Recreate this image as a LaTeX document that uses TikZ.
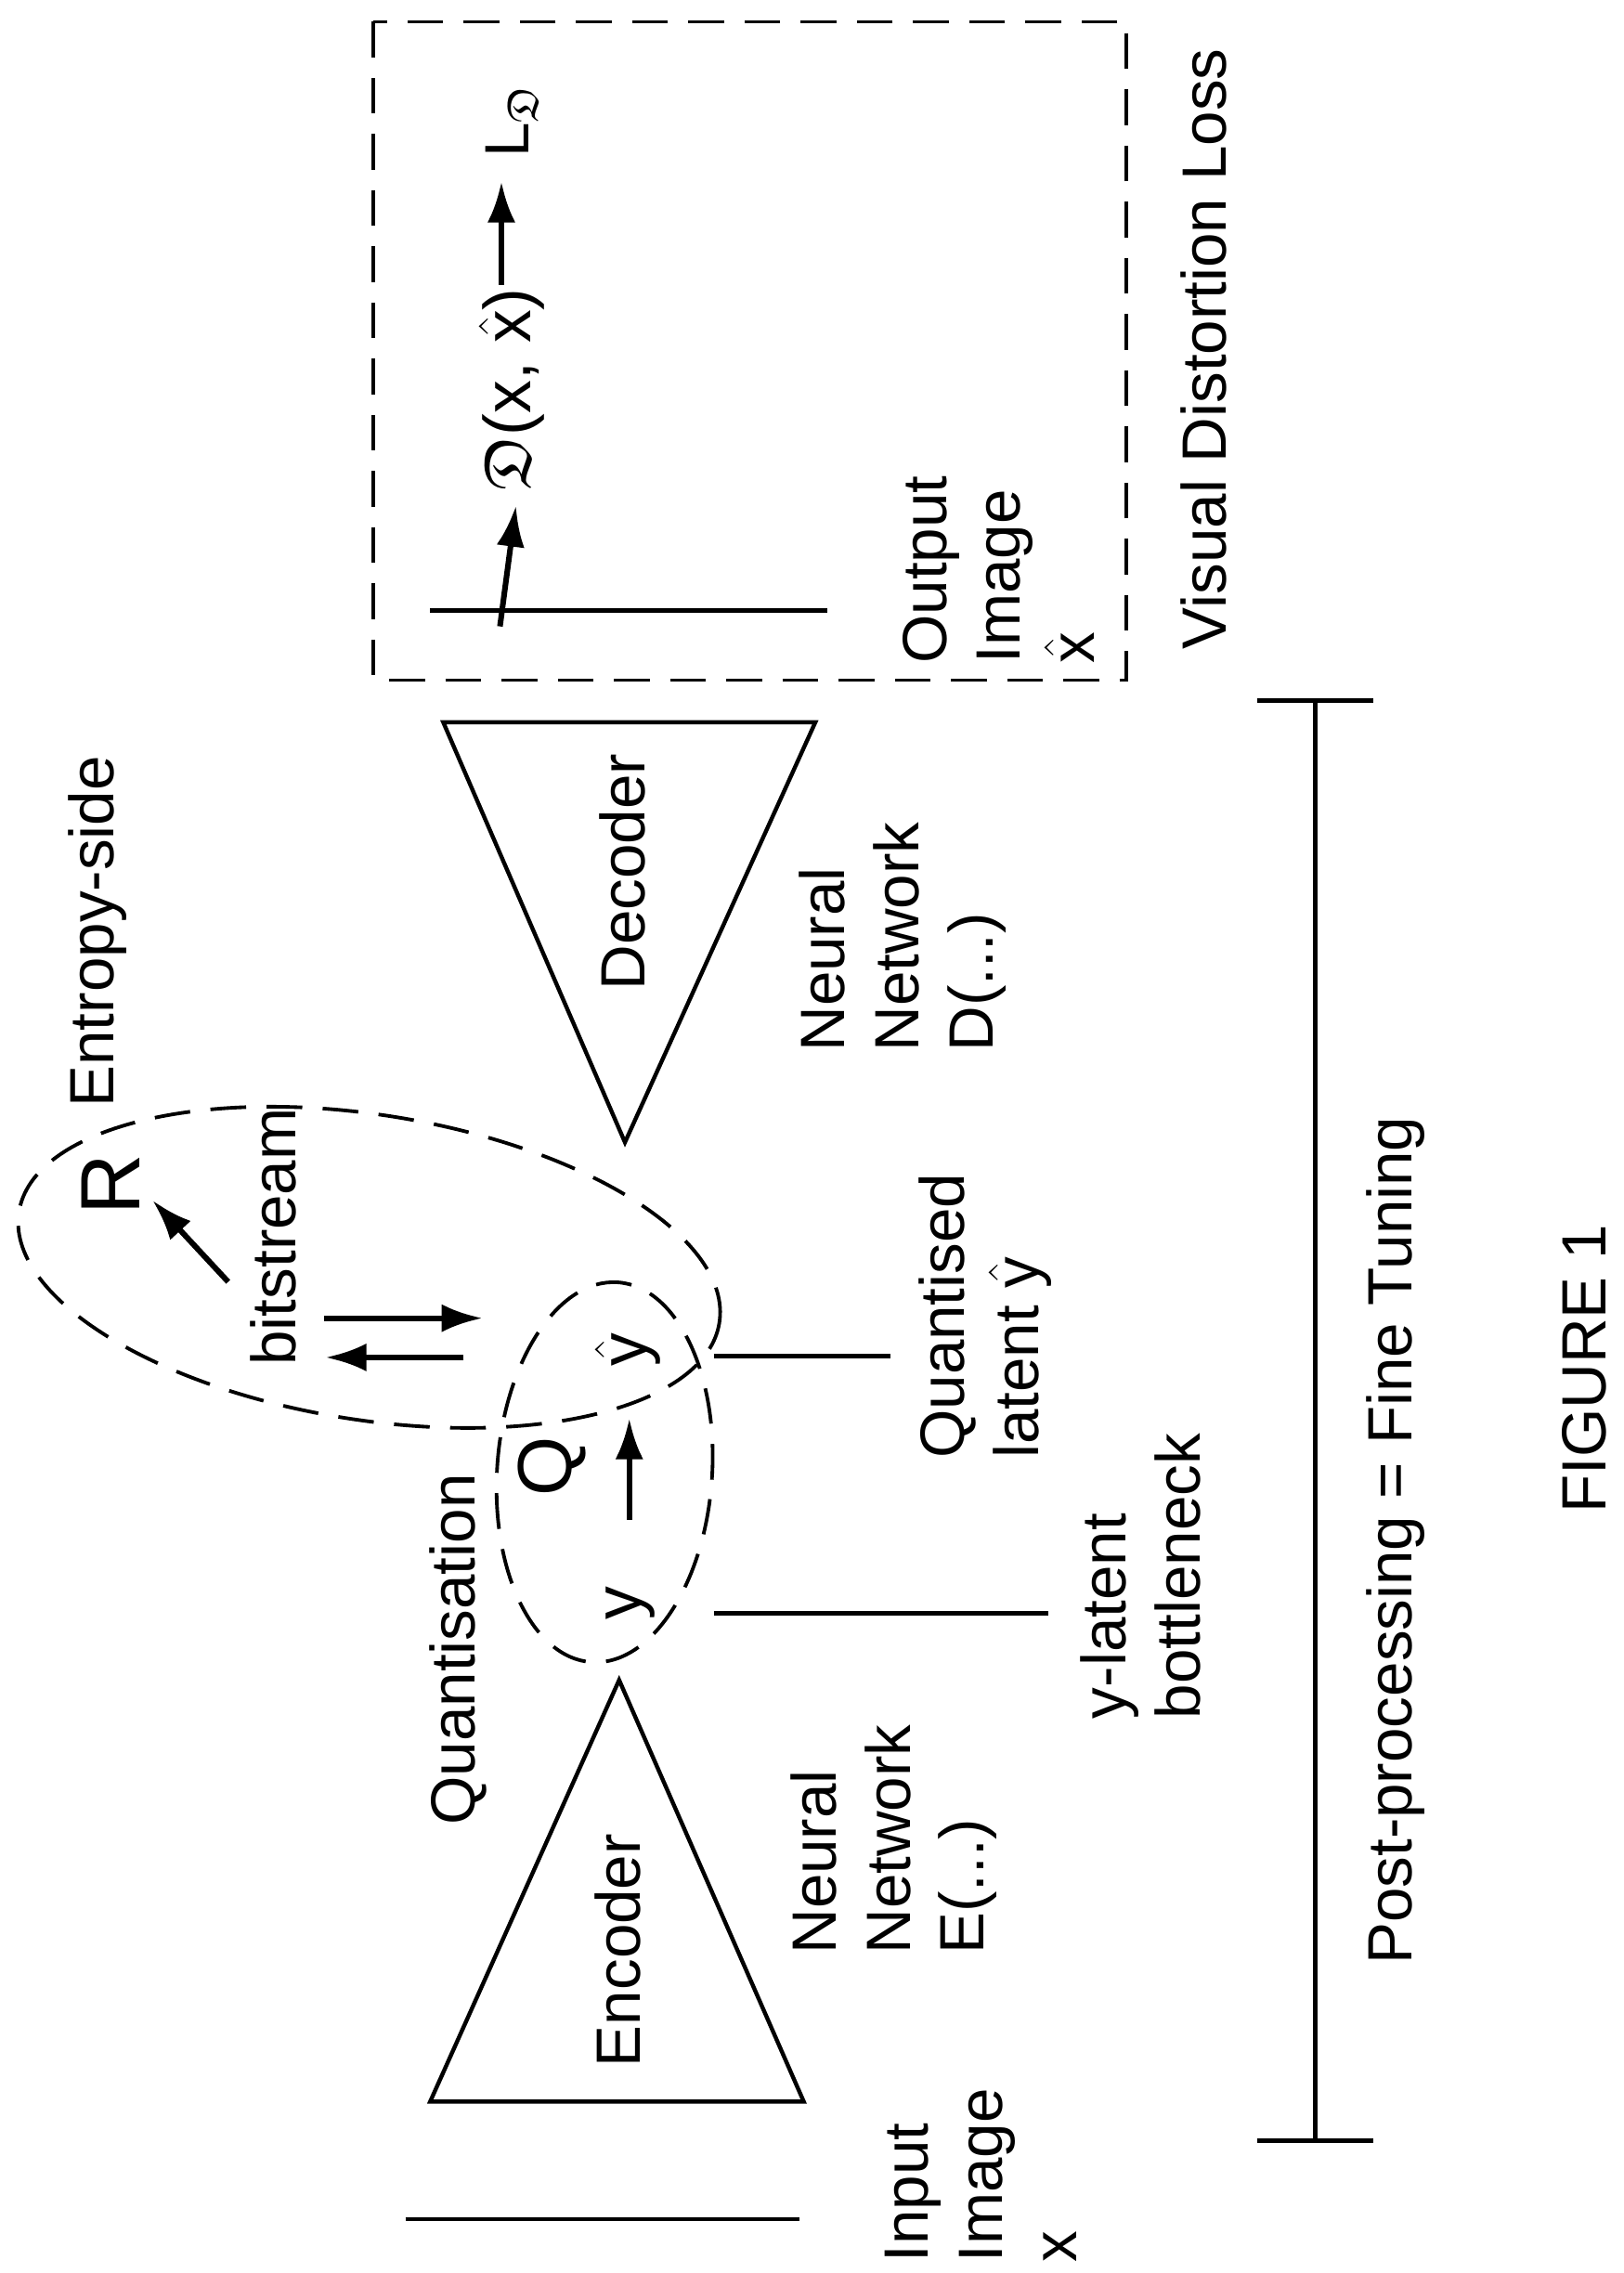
\documentclass[tikz,border=0pt]{standalone}
\usepackage{amssymb}
\usepackage{fontspec}
\usetikzlibrary{arrows.meta}
\setmainfont{Liberation Sans}
\begin{document}
\begin{tikzpicture}[x=0.02cm,y=-0.02cm,line width=1.6pt,
  lbl/.style={rotate=90,font=\fontsize{24.5}{29}\selectfont,align=left,inner sep=0pt},
  ar/.style={-{Latex[length=16pt,width=11pt]},line width=2.2pt},
  dsh/.style={dashed,dash pattern=on 14pt off 8pt,line width=1.4pt}]
\useasboundingbox (0,0) rectangle (1117,1564);
% input image
\coordinate (in1) at (279,1527); \coordinate (in2) at (550,1527);
\draw (in1) -- (in2);
\node[lbl,anchor=west] (inl) at (675,1558) {Input\\Image\\x};
% encoder
\coordinate (ea) at (426,1156); \coordinate (eb1) at (296,1446); \coordinate (eb2) at (553,1446);
\draw (ea) -- (eb1) -- (eb2) -- cycle;
\node[lbl] (enc) at (425,1342) {Encoder};
\node[lbl,anchor=west] (nne) at (615,1346) {Neural\\Network\\E(...)};
\node[lbl] (quant) at (315,1135) {Quantisation};
% small ellipse
\draw[dsh,rotate around={-4:(416,1013)}] (416,1013) ellipse [x radius=1.48cm, y radius=2.62cm];
\node[lbl,font=\fontsize{26}{30}\selectfont] (ylab) at (434,1103) {y};
\node[lbl,font=\fontsize{30}{32}\selectfont] (Q) at (380,1009) {Q};
\node[lbl,font=\fontsize{26}{30}\selectfont] (yh) at (432,929) {$\hat{\textrm{y}}$};
\coordinate (qa) at (433,1046); \coordinate (qb) at (433,976);
\draw[ar] (qa) -- (qb);
% lines to labels
\coordinate (yl1) at (491,1110); \coordinate (yl2) at (721,1110);
\draw (yl1) -- (yl2);
\node[lbl,anchor=west] (ylat) at (785,1184) {y-latent\\bottleneck};
\coordinate (ql1) at (491,933); \coordinate (ql2) at (613,933);
\draw (ql1) -- (ql2);
\node[lbl,anchor=west] (qlat) at (678,1005) {Quantised\\latent $\hat{\textrm{y}}$};
% entropy ellipse
\draw[dsh,rotate around={-9:(254,872)}] (254,872) ellipse [x radius=4.88cm, y radius=2.1cm];
\coordinate (b1) at (223,907); \coordinate (b2) at (332,907);
\coordinate (b3) at (319,934); \coordinate (b4) at (224,934);
\draw[ar] (b1) -- (b2);
\draw[ar] (b3) -- (b4);
\node[lbl] (bits) at (188,851) {bitstream};
\node[lbl,font=\fontsize{33}{36}\selectfont] (R) at (76,815) {R};
\coordinate (ra) at (157,882); \coordinate (rb) at (105,826);
\draw[ar] (ra) -- (rb);
\node[lbl] (ent) at (67,641) {Entropy-side};
% decoder
\coordinate (da) at (430,786); \coordinate (db1) at (305,497); \coordinate (db2) at (561,497);
\draw (da) -- (db1) -- (db2) -- cycle;
\node[lbl] (dec) at (428,600) {Decoder};
\node[lbl,anchor=west] (nnd) at (621,725) {Neural\\Network\\D(...)};
% dashed box
\draw[dsh] (257,15) rectangle (775,468);
\coordinate (o1) at (296,420); \coordinate (o2) at (569,420);
\draw (o1) -- (o2);
\node[lbl,anchor=west] (outl) at (687,458) {Output\\Image\\$\hat{\textrm{x}}$};
\coordinate (da1) at (344,431); \coordinate (da2) at (355,348);
\draw[ar] (da1) -- (da2);
\node[lbl,font=\fontsize{26}{30}\selectfont] (D) at (352,268) {$\mathfrak{D}$(x, $\hat{\textrm{x}}$)};
\coordinate (la1) at (345,196); \coordinate (la2) at (345,125);
\draw[ar] (la1) -- (la2);
\node[lbl,anchor=west] (L) at (352,110) {L$_{\mathfrak{D}}$};
\node[lbl,anchor=west] (vdl) at (828,448) {Visual Distortion Loss};
% bracket
\coordinate (k1) at (905,482); \coordinate (k2) at (905,1473);
\draw (k1) -- (k2);
\draw ([xshift=-0.8cm]k1) -- ([xshift=0.8cm]k1);
\draw ([xshift=-0.8cm]k2) -- ([xshift=0.8cm]k2);
\node[lbl] (pp) at (960,1060) {Post-processing = Fine Tuning};
\node[lbl] (fig) at (1090,942) {FIGURE 1};
\end{tikzpicture}
\end{document}
